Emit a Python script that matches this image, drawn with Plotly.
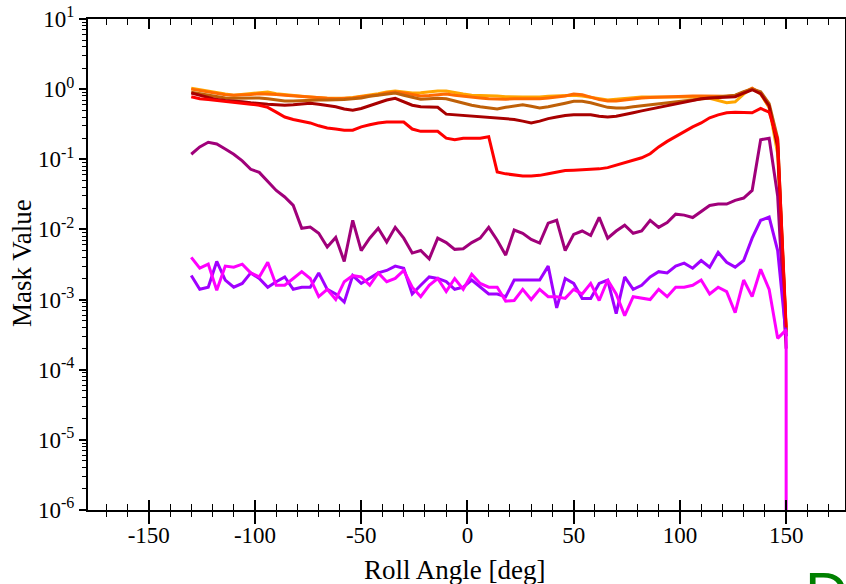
import plotly.graph_objects as go

# Roll angle grid (deg)
angles = [-130 + 4 * i for i in range(71)]

orange = [1.03, 0.98, 0.93, 0.88, 0.85, 0.82, 0.84, 0.87, 0.90, 0.91, 0.86, 0.83, 0.81, 0.79, 0.77, 0.75, 0.74, 0.74, 0.74, 0.76,
          0.79, 0.81, 0.86, 0.91, 0.94, 0.91, 0.88, 0.89, 0.92, 0.94, 0.94, 0.89, 0.85, 0.82, 0.82, 0.81, 0.80, 0.78, 0.77, 0.77,
          0.77, 0.77, 0.79, 0.80, 0.81, 0.82, 0.80, 0.76, 0.72, 0.70, 0.72, 0.74, 0.76, 0.77, 0.77, 0.77, 0.77, 0.77, 0.77, 0.77,
          0.77, 0.74, 0.69, 0.64, 0.66, 0.85, 1.02, 0.85, 0.55, 0.12, 0.00035]
dark_orange = [1.00, 0.95, 0.90, 0.86, 0.83, 0.82, 0.82, 0.84, 0.86, 0.86, 0.84, 0.82, 0.80, 0.78, 0.76, 0.75, 0.74, 0.73, 0.74, 0.75,
               0.78, 0.80, 0.83, 0.88, 0.91, 0.88, 0.84, 0.80, 0.81, 0.84, 0.85, 0.82, 0.79, 0.77, 0.75, 0.73, 0.72, 0.72, 0.73, 0.73,
               0.72, 0.73, 0.75, 0.77, 0.80, 0.85, 0.83, 0.77, 0.71, 0.68, 0.68, 0.70, 0.73, 0.75, 0.76, 0.77, 0.78, 0.79, 0.80, 0.80,
               0.80, 0.80, 0.79, 0.79, 0.81, 0.90, 1.03, 0.88, 0.55, 0.17, 0.00035]
brown = [0.90, 0.86, 0.82, 0.78, 0.75, 0.74, 0.74, 0.75, 0.75, 0.73, 0.70, 0.68, 0.68, 0.69, 0.70, 0.70, 0.70, 0.70, 0.71, 0.73,
         0.75, 0.79, 0.82, 0.85, 0.88, 0.82, 0.77, 0.72, 0.73, 0.74, 0.73, 0.68, 0.62, 0.59, 0.56, 0.54, 0.52, 0.55, 0.58, 0.60,
         0.57, 0.54, 0.56, 0.60, 0.63, 0.67, 0.67, 0.64, 0.60, 0.55, 0.54, 0.54, 0.56, 0.58, 0.60, 0.62, 0.64, 0.66, 0.68, 0.70,
         0.73, 0.75, 0.77, 0.79, 0.82, 0.92, 1.00, 0.92, 0.62, 0.20, 0.00035]
dark_red = [0.88, 0.82, 0.75, 0.71, 0.69, 0.68, 0.66, 0.64, 0.62, 0.61, 0.60, 0.59, 0.60, 0.62, 0.63, 0.61, 0.59, 0.56, 0.52, 0.50,
            0.53, 0.58, 0.64, 0.70, 0.74, 0.66, 0.59, 0.56, 0.56, 0.55, 0.44, 0.43, 0.43, 0.42, 0.41, 0.40, 0.39, 0.38, 0.37, 0.35,
            0.33, 0.35, 0.38, 0.40, 0.42, 0.43, 0.43, 0.43, 0.41, 0.40, 0.41, 0.43, 0.46, 0.49, 0.52, 0.55, 0.58, 0.62, 0.66, 0.70,
            0.73, 0.75, 0.76, 0.77, 0.78, 0.88, 0.98, 0.86, 0.58, 0.15, 0.0003]
red = [0.78, 0.73, 0.71, 0.69, 0.68, 0.66, 0.63, 0.61, 0.59, 0.55, 0.47, 0.40, 0.37, 0.35, 0.33, 0.30, 0.28, 0.27, 0.26, 0.26,
       0.29, 0.31, 0.33, 0.34, 0.34, 0.34, 0.27, 0.25, 0.25, 0.25, 0.20, 0.19, 0.20, 0.20, 0.20, 0.21, 0.066, 0.062, 0.060, 0.058,
       0.058, 0.059, 0.062, 0.066, 0.069, 0.070, 0.071, 0.072, 0.073, 0.076, 0.082, 0.088, 0.095, 0.105, 0.12, 0.15, 0.18, 0.21, 0.25, 0.29,
       0.33, 0.39, 0.43, 0.46, 0.47, 0.46, 0.46, 0.53, 0.47, 0.19, 0.0004]
purple = [0.118, 0.15, 0.175, 0.165, 0.14, 0.118, 0.095, 0.072, 0.065, 0.048, 0.036, 0.029, 0.022, 0.0104, 0.0108, 0.0088, 0.0056, 0.0077, 0.0035, 0.0135,
          0.005, 0.0075, 0.0104, 0.0066, 0.0107, 0.0075, 0.0046, 0.005, 0.0038, 0.0075, 0.0065, 0.0052, 0.0053, 0.0065, 0.0075, 0.0107, 0.007, 0.0043, 0.0098, 0.0088,
          0.0072, 0.0064, 0.0123, 0.0135, 0.005, 0.0085, 0.0095, 0.0082, 0.0149, 0.0075, 0.0095, 0.0115, 0.0088, 0.0095, 0.0135, 0.0107, 0.0125, 0.0165, 0.016, 0.0148,
          0.018, 0.022, 0.023, 0.023, 0.026, 0.028, 0.036, 0.19, 0.20, 0.03, 0.0002]
violet = [0.0022, 0.0014, 0.0015, 0.0035, 0.0019, 0.0015, 0.0017, 0.0024, 0.002, 0.0015, 0.0018, 0.0021, 0.0014, 0.0015, 0.0015, 0.0024, 0.0014, 0.0012, 0.00092, 0.0022,
          0.0017, 0.002, 0.0024, 0.0026, 0.003, 0.0028, 0.0012, 0.0016, 0.0021, 0.002, 0.0018, 0.0014, 0.0015, 0.0019, 0.0015, 0.0012, 0.0012, 0.0011, 0.0019, 0.0019,
          0.0019, 0.0019, 0.003, 0.00076, 0.002, 0.0017, 0.00104, 0.00104, 0.0017, 0.0019, 0.00063, 0.0021, 0.0014, 0.0016, 0.0021, 0.0025, 0.0024, 0.003, 0.0033, 0.0028,
          0.0036, 0.0029, 0.0047, 0.0034, 0.0029, 0.0036, 0.0075, 0.0135, 0.015, 0.005, 0.0003]
magenta = [0.004, 0.0028, 0.0032, 0.00136, 0.003, 0.0029, 0.0032, 0.0024, 0.0021, 0.0034, 0.0016, 0.0016, 0.002, 0.0025, 0.002, 0.0011, 0.0014, 0.001, 0.0018, 0.0022,
           0.0021, 0.0016, 0.0024, 0.0018, 0.002, 0.0026, 0.0015, 0.0011, 0.0016, 0.002, 0.0013, 0.002, 0.0014, 0.0023, 0.0017, 0.0015, 0.0015, 0.00095, 0.00097, 0.0014,
           0.001, 0.0014, 0.0011, 0.0011, 0.00104, 0.0014, 0.0012, 0.0017, 0.00097, 0.0019, 0.0012, 0.00059, 0.0011, 0.00105, 0.001, 0.0014, 0.0011, 0.0015, 0.0015, 0.0016,
           0.0019, 0.0012, 0.0015, 0.0013, 0.00065, 0.0019, 0.0011, 0.0027, 0.0014, 0.00028, 0.00037]
# magenta drops to the axis floor at the cutoff angle
magenta_cutoff_angle = [150]
magenta_cutoff_value = [1e-6]

series = [
    (orange, "#FFA500"),
    (dark_orange, "#FF6A00"),
    (brown, "#BF6008"),
    (dark_red, "#A80000"),
    (purple, "#A0007A"),
    (violet, "#A000FF"),
    (red, "#FF0000"),
]

HY = "\u2010"  # typographic hyphen, as in the reference labels
y_tick_vals = [1e-6, 1e-5, 1e-4, 1e-3, 1e-2, 1e-1, 1e0, 1e1]
y_tick_text = ["10<sup>" + HY + "6</sup>", "10<sup>" + HY + "5</sup>", "10<sup>" + HY + "4</sup>", "10<sup>" + HY + "3</sup>",
               "10<sup>" + HY + "2</sup>", "10<sup>" + HY + "1</sup>", "10<sup>0</sup>", "10<sup>1</sup>"]
y_minor_vals = [k * 10.0 ** n for n in range(-6, 1) for k in range(2, 10)]
x_tick_vals = [-150, -100, -50, 0, 50, 100, 150]
x_tick_text = [(HY + str(-v)) if v < 0 else str(v) for v in x_tick_vals]

fig = go.Figure()
for vals, col in series:
    fig.add_trace(go.Scatter(x=angles, y=vals, mode="lines",
                             line=dict(color=col, width=3), showlegend=False, hoverinfo="skip"))
fig.add_trace(go.Scatter(x=angles + magenta_cutoff_angle, y=magenta + magenta_cutoff_value, mode="lines",
                         line=dict(color="#FF00FF", width=3), showlegend=False, hoverinfo="skip"))
# helper trace for the overlay axis (inside ticks + labels)
fig.add_trace(go.Scatter(x=[0], y=[1], xaxis="x2", mode="lines", showlegend=False,
                         hoverinfo="skip", line=dict(color="rgba(0,0,0,0)")))

serif = "Times New Roman"
xr = [-178.6, 177.7]
W, H = 846, 584
L, R, T, B = 88, 1, 19, 74
pw, ph = W - L - R, H - T - B


def px_x(px):
    return (px - L) / pw


def px_y(py):
    return (H - B - py) / ph


fig.update_layout(
    width=W, height=H,
    margin=dict(l=L, r=R, t=T, b=B, autoexpand=False),
    paper_bgcolor="white", plot_bgcolor="white",
    font=dict(family=serif, size=23, color="black"),
    xaxis=dict(range=xr, showgrid=False, zeroline=False, showline=True, linecolor="black", linewidth=2,
               mirror=True, ticks="outside", ticklen=12, tickwidth=1.5, tickcolor="black",
               tickvals=x_tick_vals, showticklabels=False, automargin=False,
               minor=dict(ticks="outside", ticklen=5, tickwidth=1.3, tickcolor="black", dtick=10, showgrid=False)),
    xaxis2=dict(range=xr, overlaying="x", anchor="y", side="bottom", showgrid=False, zeroline=False,
                showline=False, mirror="ticks", ticks="inside", ticklen=10, tickwidth=1.5, tickcolor="black",
                tickvals=x_tick_vals, ticktext=x_tick_text, showticklabels=True, automargin=False,
                ticklabelstandoff=9, tickfont=dict(family=serif, size=23, color="black"),
                minor=dict(ticks="inside", ticklen=6, tickwidth=1.3, tickcolor="black", dtick=10, showgrid=False)),
    yaxis=dict(type="log", range=[-6, 1], showgrid=False, zeroline=False, showline=True, linecolor="black",
               linewidth=2, mirror=True, ticks="outside", ticklen=7, tickwidth=1.5, tickcolor="black",
               tickvals=y_tick_vals, ticktext=y_tick_text, automargin=False,
               minor=dict(ticks="outside", ticklen=4, tickwidth=1.2, tickcolor="black", tickvals=y_minor_vals, showgrid=False),
               tickfont=dict(family=serif, size=23, color="black")),
    annotations=[
        dict(text="Roll Angle [deg]", xref="paper", yref="paper", x=px_x(454), y=px_y(570),
             xanchor="center", yanchor="middle", showarrow=False, font=dict(family=serif, size=27)),
        dict(text="Mask Value", xref="paper", yref="paper", x=px_x(22), y=px_y(263), textangle=-90,
             xanchor="center", yanchor="middle", showarrow=False, font=dict(family=serif, size=27)),
        dict(text="D", xref="paper", yref="paper", x=px_x(803), y=px_y(558), xanchor="left", yanchor="top",
             showarrow=False, font=dict(family="Liberation Sans, Arial, sans-serif", size=60, color="#008000")),
    ],
)

fig.write_html("out.html", config={"displayModeBar": False},
               post_script="document.body.style.margin='0px';document.body.style.overflow='hidden';")
